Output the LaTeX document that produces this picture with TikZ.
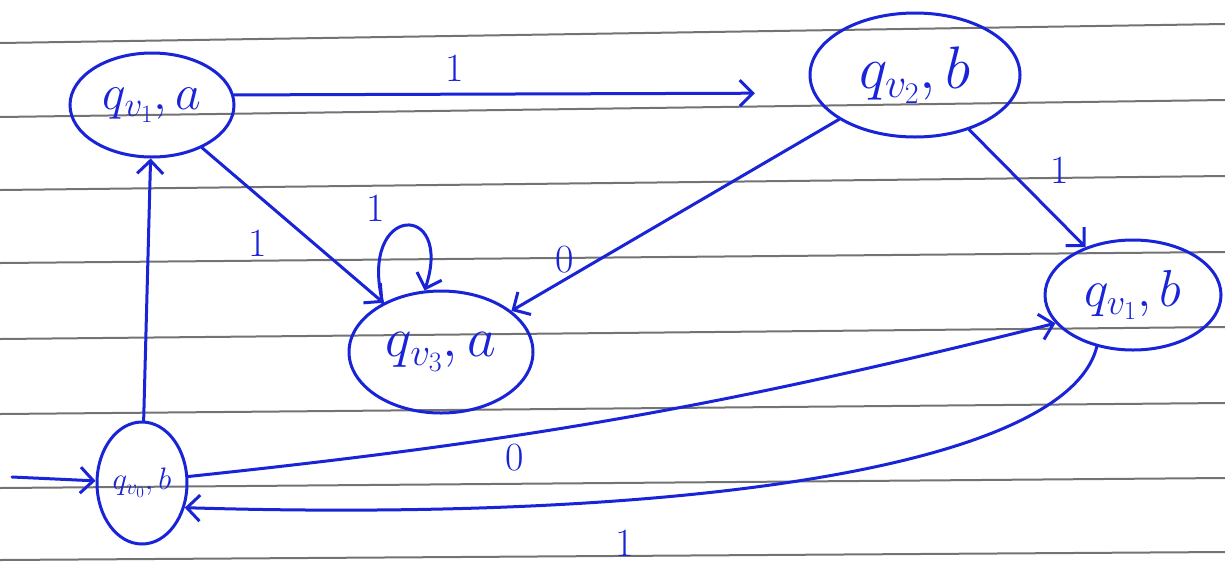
\RequirePackage{fix-cm}
\documentclass[tikz,border=0pt]{standalone}
\usetikzlibrary{shapes.geometric,arrows.meta}
\definecolor{hb}{RGB}{25,35,215}
\begin{document}
\begin{tikzpicture}[x=1pt,y=-1pt,
  state/.style={draw=hb, line width=3pt, ellipse, inner sep=0pt, text=hb,
    font=\fontsize{50}{56}\selectfont},
  hedge/.style={draw=hb, line width=3pt, line cap=round,
    -{Straight Barb[length=13pt,width=26pt,line width=3pt]}},
  lbl/.style={text=hb, font=\fontsize{40}{44}\selectfont},
  paper/.style={draw=black!55, line width=2pt}]
\useasboundingbox (0,0) rectangle (1225,563);
\fill[white] (0,0) rectangle (1225,563);
% ruled paper
\foreach \l/\r in {43/24,117/100,190/176,263/252,339/327,414/403,488/478,560/552}
  \draw[paper] (0,\l) -- (1225,\r);
% states
\node[state, minimum width=164pt, minimum height=104pt] (A) at (152,105) {$q_{v_1},a$};
\node[state, minimum width=210pt, minimum height=124pt, font=\fontsize{60}{66}\selectfont] (B) at (915,75) {$q_{v_2},b$};
\node[state, minimum width=184pt, minimum height=122pt, font=\fontsize{56}{62}\selectfont] (C) at (441,352) {$q_{v_3},a$};
\node[state, minimum width=176pt, minimum height=110pt, font=\fontsize{52}{58}\selectfont] (D) at (1133,295) {$q_{v_1},b$};
\node[state, minimum width=90pt, minimum height=122pt, font=\fontsize{31}{36}\selectfont] (E) at (142,483) {$q_{v_0},b$};
\coordinate (init) at (12,477);
% transitions
\draw[hedge] (init) -- (E);
\draw[hedge] (E) -- (A);
\draw[hedge, shorten >=58pt] (A.7) -- (B.190);
\draw[hedge] (A) -- (C);
\draw[hedge] (C.140) .. controls +(-25,-100) and +(30,-90) .. (C.105);
\draw[hedge] (B) -- (C);
\draw[hedge] (B) -- (D);
\draw[hedge] (E.8) to[bend right=4] (D.200);
\draw[hedge] (D.235) .. controls +(-30,120) and +(500,15) .. (E.-30);
% labels
\node[lbl] (l1) at (455,68) {1};
\node[lbl] (l2) at (258,243) {1};
\node[lbl] (l3) at (376,208) {1};
\node[lbl] (l4) at (565,260) {0};
\node[lbl] (l5) at (1060,170) {1};
\node[lbl] (l6) at (515,458) {0};
\node[lbl] (l7) at (625,543) {1};
\end{tikzpicture}
\end{document}
